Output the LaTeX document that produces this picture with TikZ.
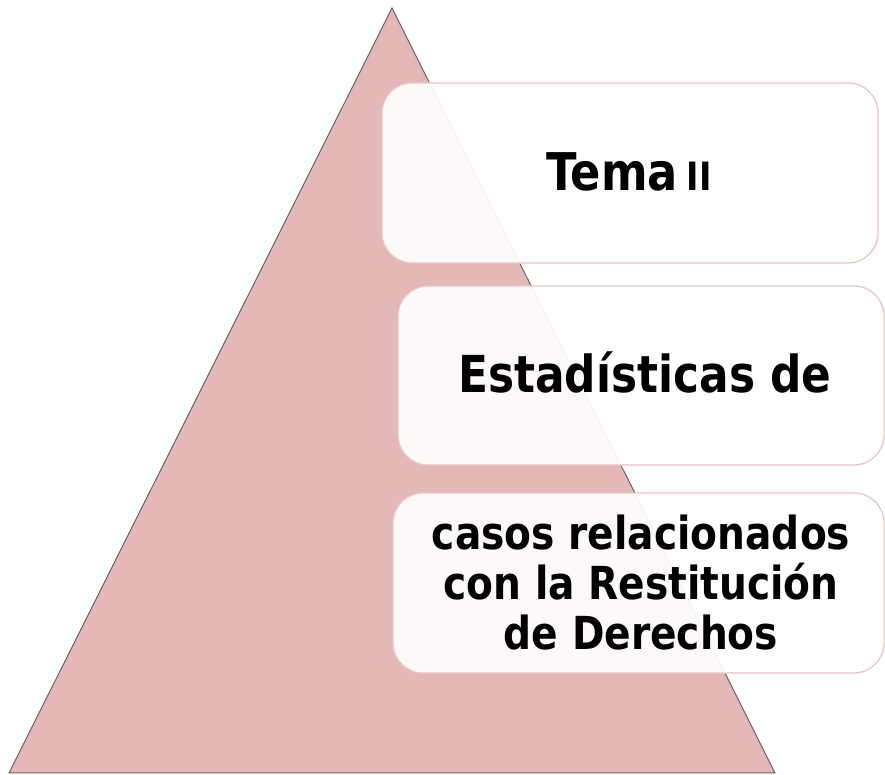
\documentclass[tikz,border=0pt]{standalone}
\usepackage{fontspec}
\setmainfont{DejaVu Sans}[BoldFont={DejaVu Sans Bold},BoldFeatures={FakeStretch=0.86}]
\definecolor{tri}{HTML}{E5B8B8}
\definecolor{triedge}{HTML}{6A6262}
\definecolor{boxedge}{HTML}{EAC6C6}
\begin{document}
\begin{tikzpicture}[x=1pt,y=1pt,
  lbox/.style={draw=boxedge,line width=1.3pt,fill=white,fill opacity=0.93,text opacity=1,
    rounded corners=30pt,align=center,font=\bfseries,inner sep=0pt}]
\useasboundingbox (0,0) rectangle (885,775);
\fill[white] (0,0) rectangle (885,775);
% triangle
\draw[fill=tri,draw=triedge,line width=1pt,line join=miter] (392,767) -- (775,2) -- (9,2) -- cycle;
% boxes
\node[lbox,minimum width=496pt,minimum height=180pt] (b1) at (630,602) {};
\node[lbox,minimum width=486pt,minimum height=179pt] (b2) at (641,399.5) {};
\node[lbox,minimum width=491pt,minimum height=180pt] (b3) at (638.5,192) {};
% texts
\node[font=\bfseries\fontsize{52}{52}\selectfont,anchor=base] (t1) at (629,584) {Tema\,{\fontsize{39}{39}\selectfont II}};
\node[font=\bfseries\fontsize{51}{51}\selectfont,anchor=base] (t2) at (645,382) {Estadísticas de};
\node[font=\bfseries\fontsize{45.5}{50}\selectfont,align=center] (t3) at (641,192) {casos relacionados\\con la Restitución\\de Derechos};
\end{tikzpicture}
\end{document}
